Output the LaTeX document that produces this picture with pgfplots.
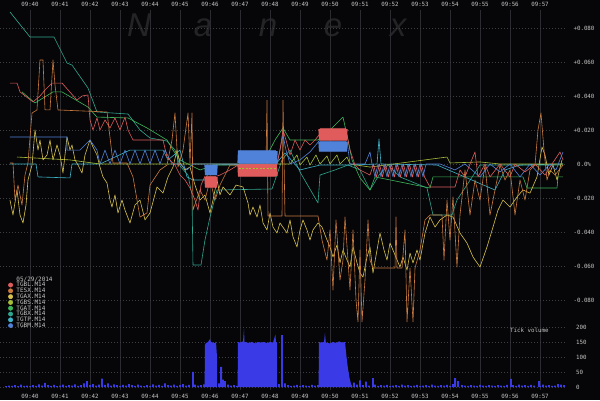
\documentclass[border=0pt]{standalone}
\usepackage{fontspec}
\usepackage{pgfplots}
\pgfplotsset{compat=1.18}
\newfontfamily\lab{DejaVu Sans Mono}
\newfontfamily\wm{Liberation Sans}
\definecolor{bg}{HTML}{060608}
\definecolor{gridv}{HTML}{2C2C30}
\definecolor{gridh}{HTML}{3E3E42}
\definecolor{labc}{HTML}{C4C4C4}
\definecolor{cred}{HTML}{E05C5C}
\definecolor{corange}{HTML}{C97A3E}
\definecolor{cyellow}{HTML}{D6C24C}
\definecolor{colive}{HTML}{A6BE38}
\definecolor{cgreen}{HTML}{3CB65A}
\definecolor{cteal}{HTML}{2EA58E}
\definecolor{ccyan}{HTML}{3DB3C8}
\definecolor{cblue}{HTML}{5082DA}
\definecolor{volblue}{HTML}{3A3AE6}
\definecolor{wmc}{HTML}{242426}
\begin{document}
\begin{tikzpicture}
\fill[bg] (0pt,0pt) rectangle (600pt,400pt);
% watermark
\begin{scope}[every node/.style={text=wmc, font=\wm\itshape\fontsize{33}{33}\selectfont, anchor=base, inner sep=0pt}]
\node at (139pt,363pt) {N};
\node at (203pt,363pt) {a};
\node at (268pt,363pt) {n};
\node at (333pt,363pt) {e};
\node at (398pt,363pt) {x};
\end{scope}
\begin{axis}[
  at={(0pt,10pt)}, anchor=south west, scale only axis,
  width=565pt, height=380pt,
  xmin=39, xmax=57.8333, ymin=-0.13294, ymax=0.090588,
  axis line style={draw=none}, major tick length=0pt, tick style={draw=none},
  xtick={40,41,42,43,44,45,46,47,48,49,50,51,52,53,54,55,56,57},
  xticklabels={09:40,09:41,09:42,09:43,09:44,09:45,09:46,09:47,09:48,09:49,09:50,09:51,09:52,09:53,09:54,09:55,09:56,09:57},
  xticklabel pos=upper,
  xticklabel style={font=\lab\fontsize{5.8}{6}\selectfont, text=labc, anchor=base, inner sep=0pt, yshift=3.6pt},
  ytick={-0.08,-0.06,-0.04,-0.02,0,0.02,0.04,0.06,0.08},
  yticklabels={-0.080,-0.060,-0.040,-0.020,0.0\%,+0.020,+0.040,+0.060,+0.080},
  yticklabel pos=right,
  yticklabel style={font=\lab\fontsize{5.8}{6}\selectfont, text=labc, anchor=center, inner sep=0pt, xshift=19pt},
  xmajorgrids, ymajorgrids,
  x grid style={gridv, line width=0.8pt},
  y grid style={gridh, line width=0.6pt, dash pattern=on 1pt off 2pt},
  every axis plot/.append style={line width=0.6pt, line join=round},
  legend style={at={(0.0088,0.302)}, anchor=north west, draw=none, fill=none,
    font=\lab\fontsize{6}{6}\selectfont, text=labc,
    nodes={inner sep=0pt, text height=3.6pt, text depth=0.8pt},
    row sep=0.8pt, column sep=0pt},
  legend cell align=left,
  legend image code/.code={\fill[#1] (1pt,0.4pt) circle (2.1pt);},
  /tikz/every odd column/.style={column sep=3.5pt},
]
% TGBX teal
\addplot[cteal, forget plot] coordinates {
(39.333,0.0894)(40.0,0.0747)(40.8,0.0747)(41.233,0.0594)(41.4,0.0582)(41.933,0.0447)(42.233,0.0306)(43.267,0.0294)(43.667,0.0200)(44.0,0.0153)(44.567,0.0135)(44.833,0.0082)(45.0,-0.0012)(45.267,-0.0065)(45.4,-0.0182)(45.433,-0.0594)(45.7,-0.0594)(45.833,-0.0447)(46.0,-0.0312)(46.233,-0.0153)(48.067,-0.0147)(48.4,0.0024)(48.667,0.0082)(49.0,-0.0047)(49.6,-0.0229)(49.667,-0.0065)(50.167,-0.0035)(50.6,-0.0006)(51.0,-0.0035)(51.333,-0.0153)(51.633,-0.0065)(51.933,-0.0006)(52.333,-0.0076)(53.233,-0.0141)(53.433,-0.0300)(54.067,-0.0300)(54.233,-0.0212)(55.0,-0.0006)(55.6,-0.0006)(56.333,-0.0006)(57.767,-0.0006)};
% TGAT green
\addplot[cgreen, forget plot] coordinates {
(39.733,0.0424)(40.167,0.0359)(40.767,0.0424)(41.067,0.0424)(41.933,0.0335)(42.233,0.0276)(43.267,0.0271)(43.9,0.0212)(44.567,0.0141)(44.767,0.0082)(45.0,0.0024)(45.333,-0.0006)(45.667,-0.0035)(46.167,-0.0006)(47.733,-0.0006)(48.167,0.0141)(48.433,0.0212)(48.667,0.0141)(49.6,0.0141)(50.0,0.0200)(50.433,0.0276)(50.6,0.0141)(50.733,0.0024)(51.0,-0.0082)(51.333,-0.0153)(51.5,-0.0076)(53.333,-0.0141)(53.433,-0.0076)(56.433,-0.0076)(56.567,-0.0141)(57.567,-0.0141)(57.6,-0.0076)(57.767,-0.0076)};
% TGTP cyan
\addplot[ccyan, forget plot] coordinates {
(39.333,0)(40.2,0)(40.267,-0.0076)(41.333,-0.0082)(41.4,0)(42.333,0)(43.333,0.0082)(44.433,0.0082)(44.6,0.0024)(45.0,0.0082)(45.233,-0.0076)(45.433,-0.0094)(45.833,-0.0094)(46.067,-0.0006)(47.667,0)(48.167,-0.0006)(48.5,0.0065)(49.0,-0.0035)(49.667,-0.0006)(50.667,-0.0006)(51.567,0)(51.633,0.0147)(51.7,0)(53.567,-0.0006)(55.5,-0.0153)(55.833,-0.0035)(56.333,-0.0006)(57.767,0)};
% TGBS olive
\addplot[colive, forget plot] coordinates {
(39.567,0.0041)(41.333,0.0024)(42.333,0)(48.667,0)(48.9,0.0053)(49.0,-0.0006)(49.233,0.0041)(49.333,-0.0006)(49.533,0.0053)(49.667,0)(49.9,0.0047)(50.0,0)(50.233,0.0053)(50.333,0)(50.567,0.0041)(50.667,0)(51.333,-0.0018)(53.9,0.0041)(54.0,0.0006)(55.0,0.0012)(55.667,0)(57.767,0)};
% TGAX yellow
\addplot[cyellow, forget plot] coordinates {
(39.333,-0.0212)(39.433,-0.0300)(39.567,-0.0153)(39.667,-0.0300)(39.767,-0.0347)(39.867,-0.0241)(39.933,-0.0094)(40.067,-0.0006)(40.167,0.0200)(40.267,0.0082)(40.333,0.0141)(40.433,0.0024)(40.567,0.0053)(40.667,0.0141)(40.767,0.0024)(40.9,0.0112)(41.0,0.0053)(41.1,-0.0053)(41.233,0.0159)(41.333,0.0082)(41.4,0.0112)(41.5,0.0024)(41.6,-0.0006)(41.733,-0.0053)(41.833,0.0053)(42.0,0.0141)(42.1,0.0100)(42.233,0.0053)(42.333,-0.0018)(42.433,-0.0076)(42.567,-0.0112)(42.667,-0.0212)(42.733,-0.0253)(42.833,-0.0182)(42.933,-0.0288)(43.067,-0.0212)(43.167,-0.0271)(43.333,-0.0347)(43.5,-0.0241)(43.667,-0.0212)(43.833,-0.0329)(44.0,-0.0288)(44.233,-0.0135)(44.433,-0.0171)(44.6,-0.0076)(44.767,-0.0018)(44.9,0.0082)(45.0,0.0006)(45.167,-0.0035)(45.333,-0.0018)(45.5,-0.0124)(45.667,-0.0212)(45.833,-0.0182)(46.0,-0.0288)(46.1,-0.0212)(46.233,-0.0094)(46.333,-0.0182)(46.433,-0.0135)(46.667,-0.0182)(46.867,-0.0124)(47.1,-0.0135)(47.267,-0.0229)(47.333,-0.0300)(47.433,-0.0253)(47.567,-0.0312)(47.667,-0.0241)(47.767,-0.0347)(47.9,-0.0388)(48.0,-0.0288)(48.1,-0.0371)(48.233,-0.0406)(48.333,-0.0347)(48.567,-0.0406)(48.667,-0.0329)(48.767,-0.0429)(48.9,-0.0488)(49.0,-0.0388)(49.1,-0.0329)(49.233,-0.0388)(49.333,-0.0447)(49.433,-0.0388)(49.6,-0.0347)(49.733,-0.0371)(49.9,-0.0447)(50.0,-0.0488)(50.1,-0.0547)(50.233,-0.0476)(50.333,-0.0582)(50.433,-0.0506)(50.567,-0.0565)(50.667,-0.0606)(50.767,-0.0488)(50.9,-0.0582)(51.0,-0.0641)(51.1,-0.0665)(51.233,-0.0547)(51.333,-0.0488)(51.433,-0.0641)(51.567,-0.0506)(51.667,-0.0406)(51.8,-0.0506)(51.9,-0.0565)(52.0,-0.0465)(52.167,-0.0535)(52.333,-0.0606)(52.433,-0.0547)(52.567,-0.0624)(52.667,-0.0524)(52.767,-0.0582)(52.9,-0.0506)(53.0,-0.0565)(53.167,-0.0406)(53.333,-0.0312)(53.5,-0.0371)(53.667,-0.0329)(53.9,-0.0300)(54.1,-0.0312)(54.333,-0.0406)(54.567,-0.0465)(54.767,-0.0547)(55.0,-0.0606)(55.233,-0.0488)(55.433,-0.0371)(55.6,-0.0271)(55.767,-0.0212)(56.0,-0.0253)(56.233,-0.0194)(56.433,-0.0153)(56.667,-0.0171)(56.9,-0.0076)(57.067,0.0100)(57.167,0.0053)(57.3,-0.0065)(57.433,-0.0006)(57.567,-0.0094)(57.733,0.0024)};
% TESX orange
\addplot[corange, forget plot] coordinates {
(39.333,0.0006)(39.433,0.0006)(39.5,-0.0212)(39.6,-0.0124)(39.733,-0.0241)(39.833,-0.0065)(39.933,0.0006)(40.067,0.0300)(40.233,0.0318)(40.333,0.0612)(40.433,0.0612)(40.5,0.0318)(40.667,0.0318)(40.767,0.0612)(40.833,0.0465)(40.933,0.0318)(42.567,0.0306)(42.767,0.0006)(43.233,0.0006)(43.433,-0.0076)(43.667,-0.0312)(43.9,-0.0288)(44.0,-0.0124)(44.333,-0.0035)(44.567,-0.0006)(44.733,0.0141)(44.833,0.0300)(44.933,-0.0018)(45.1,0.0082)(45.267,0.0300)(45.333,0.0006)(45.4,0.0300)(45.433,-0.0271)(45.667,-0.0153)(45.833,-0.0212)(46.0,-0.0094)(46.167,-0.0212)(46.333,-0.0124)(46.5,-0.0065)(46.667,-0.0006)(47.867,-0.0006)(47.9,0.0376)(47.933,-0.0306)(48.4,-0.0306)(48.433,0.0376)(48.5,-0.0306)(49.6,-0.0306)(49.733,-0.0447)(49.9,-0.0565)(50.0,-0.0388)(50.1,-0.0741)(50.2,-0.0329)(50.333,-0.0682)(50.433,-0.0565)(50.5,-0.0312)(50.667,-0.0741)(50.767,-0.0388)(50.867,-0.0800)(50.933,-0.0929)(51.0,-0.0506)(51.067,-0.0929)(51.167,-0.0682)(51.267,-0.0329)(51.333,-0.0565)(51.433,-0.0612)(52.167,-0.0612)(52.2,-0.0312)(52.233,-0.0612)(52.4,-0.0612)(52.5,-0.0388)(52.567,-0.0929)(52.667,-0.0612)(52.767,-0.0929)(52.833,-0.0612)(53.0,-0.0506)(53.167,-0.0329)(53.333,-0.0300)(53.733,-0.0300)(53.8,-0.0565)(53.9,-0.0212)(54.0,-0.0447)(54.1,-0.0194)(54.233,-0.0606)(54.333,-0.0300)(54.5,-0.0035)(54.667,-0.0300)(54.833,-0.0094)(55.0,-0.0212)(55.167,-0.0006)(55.333,-0.0300)(55.5,-0.0153)(55.667,-0.0006)(55.833,-0.0094)(56.0,-0.0035)(56.167,-0.0300)(56.333,-0.0094)(56.5,-0.0212)(56.667,-0.0035)(56.833,-0.0006)(56.933,0.0200)(57.033,0.0300)(57.133,0.0082)(57.233,-0.0094)(57.333,-0.0035)(57.5,-0.0065)(57.767,-0.0006)};
% TGBM blue
\addplot[cblue, forget plot] coordinates {
(39.333,0.0159)(41.233,0.0159)(41.233,0.0082)(41.667,0.0082)(42.0,0.0141)(42.233,0.0082)(42.333,0)(42.5,0.0082)(42.667,0)(42.833,0.0082)(43.0,0)(43.167,0.0082)(43.333,0)(43.5,0.0082)(43.667,0)(43.833,0.0082)(44.0,0)(44.167,0.0082)(44.333,0)(44.5,0.0082)(44.733,0)(45.0,0)(45.233,-0.0035)(45.433,0)(45.833,0)(46.233,0)(46.667,0)(46.933,0)(48.233,0)(48.333,0.0082)(48.433,0.0171)(48.533,0.0082)(48.667,0)(49.0,0.0024)(49.333,0.0071)(49.633,0.0135)(50.567,0.0135)(50.667,0)(51.167,0)(51.333,0.0071)(51.4,0)(51.5,-0.0076)(51.6,0)(51.7,-0.0076)(51.8,0)(51.9,-0.0076)(52.0,0)(52.1,-0.0076)(52.2,0)(52.3,-0.0076)(52.4,0)(52.5,-0.0076)(52.6,0)(52.7,-0.0076)(52.8,0)(52.9,-0.0076)(53.0,0)(53.1,-0.0076)(53.2,0)(53.667,0)(54.167,-0.0035)(54.5,0)(55.0,-0.0076)(55.333,0)(55.667,-0.0047)(56.0,0)(56.333,-0.0076)(56.667,0)(57.0,-0.0065)(57.333,0)(57.533,-0.0035)(57.767,0.0071)};
% TGBL red
\addplot[cred, forget plot] coordinates {
(39.333,0.0476)(39.567,0.0476)(39.667,0.0424)(40.1,0.0365)(40.333,0.0400)(40.5,0.0435)(40.733,0.0476)(41.067,0.0476)(41.567,0.0376)(41.733,0.0400)(41.933,0.0406)(42.0,0.0259)(42.1,0.0200)(42.233,0.0271)(42.333,0.0200)(42.5,0.0259)(42.667,0.0212)(42.833,0.0271)(43.0,0.0200)(43.167,0.0276)(43.267,0.0200)(43.433,0.0141)(43.767,0.0141)(44.433,0.0141)(44.567,0.0041)(44.833,-0.0006)(45.0,-0.0065)(45.167,-0.0094)(45.333,-0.0141)(45.5,-0.0212)(45.6,-0.0271)(45.7,-0.0124)(45.833,-0.0071)(46.233,-0.0071)(46.333,-0.0065)(46.667,-0.0035)(46.933,-0.0006)(48.233,0)(48.333,0.0082)(48.433,0.0200)(48.533,0.0141)(48.667,0.0053)(48.833,0.0141)(49.0,0.0082)(49.167,0.0141)(49.333,0.0112)(49.5,0.0141)(49.633,0.0171)(50.567,0.0171)(50.667,0.0082)(50.833,-0.0006)(51.0,-0.0035)(51.333,-0.0065)(51.45,0)(51.55,-0.0076)(51.65,0)(51.75,-0.0076)(51.85,0)(51.95,-0.0076)(52.05,0)(52.15,-0.0076)(52.25,0)(52.35,-0.0076)(52.45,0)(52.55,-0.0076)(52.65,0)(52.75,-0.0076)(52.85,0)(52.95,-0.0076)(53.05,0)(53.15,-0.0076)(53.333,-0.0135)(54.167,-0.0135)(54.333,-0.0035)(54.5,-0.0076)(54.667,0)(54.833,0.0071)(54.933,-0.0076)(55.167,0)(55.333,-0.0076)(55.667,0)(56.0,-0.0076)(56.167,0)(56.5,-0.0047)(56.833,0)(57.167,-0.0065)(57.4,0)(57.667,0.0071)(57.767,0.0024)};
% dense bid/ask bouncing blocks
\addplot[cblue, line width=2.2pt, line join=miter, forget plot] coordinates {
(45.85,-0.0006)(45.867,-0.0065)(45.9,-0.0006)(45.933,-0.0065)(45.967,-0.0006)(46.0,-0.0065)(46.033,-0.0006)(46.067,-0.0065)(46.1,-0.0006)(46.133,-0.0065)(46.167,-0.0006)(46.2,-0.0065)(46.22,-0.0006)};
\addplot[cred, line width=2.2pt, forget plot] coordinates {
(45.85,-0.0077)(45.867,-0.0135)(45.9,-0.0077)(45.933,-0.0135)(45.967,-0.0077)(46.0,-0.0135)(46.033,-0.0077)(46.067,-0.0135)(46.1,-0.0077)(46.133,-0.0135)(46.167,-0.0077)(46.2,-0.0135)(46.22,-0.0077)};
\addplot[cblue, line width=2.2pt, forget plot] coordinates {
(46.95,0.0006)(46.967,0.0076)(47.000,0.0006)(47.033,0.0076)(47.067,0.0006)(47.100,0.0076)(47.133,0.0006)(47.167,0.0076)(47.200,0.0006)(47.233,0.0076)(47.267,0.0006)(47.300,0.0076)(47.333,0.0006)(47.367,0.0076)(47.400,0.0006)(47.433,0.0076)(47.467,0.0006)(47.500,0.0076)(47.533,0.0006)(47.567,0.0076)(47.600,0.0006)(47.633,0.0076)(47.667,0.0006)(47.700,0.0076)(47.733,0.0006)(47.767,0.0076)(47.800,0.0006)(47.833,0.0076)(47.867,0.0006)(47.900,0.0076)(47.933,0.0006)(47.967,0.0076)(48.000,0.0006)(48.033,0.0076)(48.067,0.0006)(48.100,0.0076)(48.133,0.0006)(48.167,0.0076)(48.200,0.0006)(48.22,0.0076)};
\addplot[cred, line width=2.2pt, forget plot] coordinates {
(46.95,-0.0006)(46.967,-0.0070)(47.000,-0.0006)(47.033,-0.0070)(47.067,-0.0006)(47.100,-0.0070)(47.133,-0.0006)(47.167,-0.0070)(47.200,-0.0006)(47.233,-0.0070)(47.267,-0.0006)(47.300,-0.0070)(47.333,-0.0006)(47.367,-0.0070)(47.400,-0.0006)(47.433,-0.0070)(47.467,-0.0006)(47.500,-0.0070)(47.533,-0.0006)(47.567,-0.0070)(47.600,-0.0006)(47.633,-0.0070)(47.667,-0.0006)(47.700,-0.0070)(47.733,-0.0006)(47.767,-0.0070)(47.800,-0.0006)(47.833,-0.0070)(47.867,-0.0006)(47.900,-0.0070)(47.933,-0.0006)(47.967,-0.0070)(48.000,-0.0006)(48.033,-0.0070)(48.067,-0.0006)(48.100,-0.0070)(48.133,-0.0006)(48.167,-0.0070)(48.200,-0.0006)(48.22,-0.0070)};
\addplot[colive, line width=0.8pt, dash pattern=on 2pt off 1.5pt, forget plot] coordinates {
(46.96,-0.0024)(48.2,-0.0024)};
\addplot[cred, line width=2.2pt, forget plot] coordinates {
(49.65,0.0206)(49.667,0.0141)(49.700,0.0206)(49.733,0.0141)(49.767,0.0206)(49.800,0.0141)(49.833,0.0206)(49.867,0.0141)(49.900,0.0206)(49.933,0.0141)(49.967,0.0206)(50.000,0.0141)(50.033,0.0206)(50.067,0.0141)(50.100,0.0206)(50.133,0.0141)(50.167,0.0206)(50.200,0.0141)(50.233,0.0206)(50.267,0.0141)(50.300,0.0206)(50.333,0.0141)(50.367,0.0206)(50.400,0.0141)(50.433,0.0206)(50.467,0.0141)(50.500,0.0206)(50.533,0.0141)(50.55,0.0206)};
\addplot[cblue, line width=2.2pt, forget plot] coordinates {
(49.65,0.0129)(49.667,0.0077)(49.700,0.0129)(49.733,0.0077)(49.767,0.0129)(49.800,0.0077)(49.833,0.0129)(49.867,0.0077)(49.900,0.0129)(49.933,0.0077)(49.967,0.0129)(50.000,0.0077)(50.033,0.0129)(50.067,0.0077)(50.100,0.0129)(50.133,0.0077)(50.167,0.0129)(50.200,0.0077)(50.233,0.0129)(50.267,0.0077)(50.300,0.0129)(50.333,0.0077)(50.367,0.0129)(50.400,0.0077)(50.433,0.0129)(50.467,0.0077)(50.500,0.0129)(50.533,0.0077)(50.55,0.0129)};
% legend
\addlegendimage{empty legend}\addlegendentry{05/29/2014}
\addlegendimage{cred}\addlegendentry{TGBL.M14}
\addlegendimage{corange}\addlegendentry{TESX.M14}
\addlegendimage{cyellow}\addlegendentry{TGAX.M14}
\addlegendimage{colive}\addlegendentry{TGBS.M14}
\addlegendimage{cgreen}\addlegendentry{TGAT.M14}
\addlegendimage{cteal}\addlegendentry{TGBX.M14}
\addlegendimage{ccyan}\addlegendentry{TGTP.M14}
\addlegendimage{cblue}\addlegendentry{TGBM.M14}
\end{axis}
% volume pane
\begin{axis}[
  at={(0pt,10pt)}, anchor=south west, scale only axis,
  width=565pt, height=70pt,
  xmin=39, xmax=57.8333, ymin=-10, ymax=223.3,
  axis line style={draw=none}, major tick length=0pt, tick style={draw=none},
  xtick={40,41,42,43,44,45,46,47,48,49,50,51,52,53,54,55,56,57},
  xticklabels={09:40,09:41,09:42,09:43,09:44,09:45,09:46,09:47,09:48,09:49,09:50,09:51,09:52,09:53,09:54,09:55,09:56,09:57},
  xticklabel style={font=\lab\fontsize{5.8}{6}\selectfont, text=labc, anchor=base, inner sep=0pt, yshift=-8.7pt},
  ytick={0,50,100,150,200},
  yticklabels={0,50,100,150,200},
  yticklabel pos=right,
  yticklabel style={font=\lab\fontsize{5.8}{6}\selectfont, text=labc, anchor=west, inner sep=0pt, xshift=11pt},
  ymajorgrids,
  y grid style={gridh, line width=0.6pt, dash pattern=on 1pt off 2pt},
]
\addplot[fill=volblue, draw=none] coordinates {
(45.82,0)(45.833,140)(45.87,148)(45.9,145)(45.95,152)(46.0,160)(46.03,150)(46.1,148)(46.15,146)(46.2,150)(46.233,100)(46.24,0)} \closedcycle;
\addplot[fill=volblue, draw=none] coordinates {
(46.92,0)(46.933,150)(47.0,148)(47.1,152)(47.133,193)(47.15,150)(47.3,147)(47.4,150)(47.5,145)(47.6,150)(47.7,148)(47.8,150)(47.9,146)(48.0,150)(48.1,148)(48.18,175)(48.2,150)(48.233,148)(48.24,0)} \closedcycle;
\addplot[fill=volblue, draw=none] coordinates {
(49.62,0)(49.633,150)(49.7,148)(49.8,150)(49.833,180)(49.86,148)(50.0,145)(50.1,150)(50.2,147)(50.3,152)(50.4,148)(50.5,150)(50.55,100)(50.6,60)(50.65,30)(50.7,10)(50.75,0)} \closedcycle;
\addplot[ybar, bar width=1.8pt, bar shift=0pt, fill=volblue, draw=none] coordinates {
(39.2,3)(39.3,5)(39.4,4)(39.5,6)(39.6,3)(39.7,8)(39.8,4)(39.9,5)(40.0,3)(40.1,6)(40.2,4)(40.3,9)(40.4,5)(40.5,14)(40.6,6)(40.7,4)(40.8,7)(40.9,3)(41.0,5)(41.1,8)(41.2,4)(41.3,6)(41.4,5)(41.5,9)(41.6,4)(41.7,6)(41.8,12)(41.9,20)(42.0,6)(42.1,10)(42.2,5)(42.3,8)(42.4,28)(42.5,7)(42.6,12)(42.7,5)(42.8,9)(42.9,6)(43.0,4)(43.1,7)(43.2,5)(43.3,10)(43.4,6)(43.5,4)(43.6,8)(43.7,5)(43.8,3)(43.9,6)(44.0,4)(44.1,9)(44.2,5)(44.3,7)(44.4,4)(44.5,12)(44.6,6)(44.7,5)(44.8,8)(44.9,4)(45.0,6)(45.1,10)(45.2,5)(45.3,7)(45.43,50)(45.5,8)(45.6,5)(45.7,6)(45.8,9)(46.3,12)(46.37,67)(46.43,25)(46.5,20)(46.6,8)(46.7,5)(46.8,6)(46.9,4)(48.3,10)(48.4,173)(48.5,12)(48.6,6)(48.7,4)(48.8,5)(48.9,7)(49.0,4)(49.1,6)(49.2,5)(49.3,4)(49.4,7)(49.5,5)(49.6,6)(50.8,15)(50.9,8)(51.0,22)(51.1,6)(51.2,18)(51.3,5)(51.43,30)(51.5,8)(51.6,4)(51.7,6)(51.8,5)(51.9,7)(52.0,4)(52.1,5)(52.2,6)(52.3,4)(52.4,8)(52.5,5)(52.6,6)(52.7,4)(52.8,5)(52.9,7)(53.0,4)(53.1,5)(53.2,6)(53.3,4)(53.4,8)(53.5,5)(53.6,4)(53.7,6)(53.8,5)(53.9,7)(54.0,4)(54.1,10)(54.17,30)(54.27,20)(54.4,6)(54.5,5)(54.6,4)(54.7,6)(54.8,5)(54.9,4)(55.0,7)(55.1,5)(55.2,4)(55.3,6)(55.4,5)(55.5,4)(55.6,6)(55.7,5)(55.8,4)(55.9,7)(56.03,27)(56.1,6)(56.2,4)(56.3,8)(56.4,5)(56.5,6)(56.6,4)(56.7,7)(56.8,5)(56.97,20)(57.0,4)(57.1,8)(57.2,5)(57.3,6)(57.4,4)(57.5,5)(57.6,10)(57.7,8)(57.8,6)};
\end{axis}
\node[font=\lab\fontsize{5.8}{6}\selectfont, text=labc, anchor=west, inner sep=0pt] at (510pt,70pt) {Tick volume};
\pgfresetboundingbox
\path[use as bounding box] (0pt,0pt) rectangle (600pt,400pt);
\end{tikzpicture}
\end{document}
